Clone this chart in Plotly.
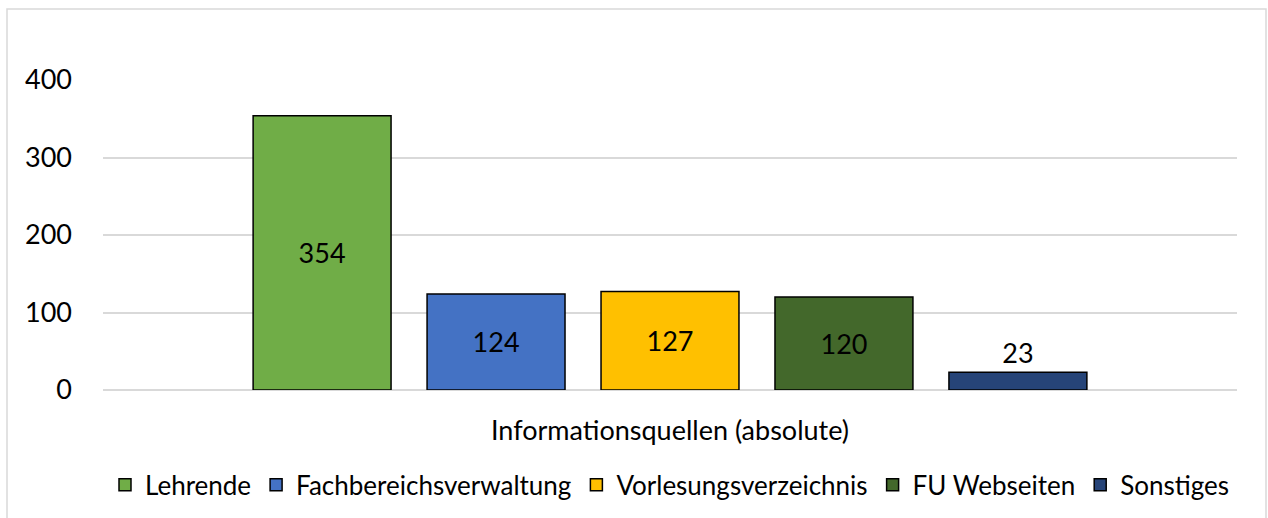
import plotly.graph_objects as go

category = ['Informationsquellen (absolute)']
series = ['Lehrende', 'Fachbereichsverwaltung', 'Vorlesungsverzeichnis', 'FU Webseiten', 'Sonstiges']
values = [354, 124, 127, 120, 23]
colors = ['#70AD47', '#4472C4', '#FFC000', '#43682B', '#264478']

W, H = 1268, 518
L, R, T, B = 103, 31, 80, 128
font = 'Lato, Calibri, sans-serif'
fs = 27

fig = go.Figure()
for name, v, c in zip(series, values, colors):
  fig.add_trace(go.Bar(
    x = category, y = [v], name = name,
    marker = dict(color = c, line = dict(color = '#000000', width = 1.5)),
    text = [v], textposition = 'auto', insidetextanchor = 'middle',
    textfont = dict(color = '#000000', size = fs, family = font),
    cliponaxis = False,
  ))

# chart frame (pixel -> paper)
pw, ph = W - L - R, H - T - B
fig.add_shape(type = 'rect', xref = 'paper', yref = 'paper',
  x0 = (7 - L) / pw, x1 = (1266 - L) / pw, y0 = (H - B - 530) / ph, y1 = (H - B - 9) / ph,
  line = dict(color = '#D9D9D9', width = 1.5), fillcolor = 'rgba(0,0,0,0)', layer = 'below')

fig.update_layout(
  width = W, height = H,
  margin = dict(l = L, r = R, t = T, b = B, autoexpand = False),
  paper_bgcolor = 'white', plot_bgcolor = 'white',
  font = dict(family = font, size = fs, color = '#000000'),
  barmode = 'group', bargap = 0.233, bargroupgap = 0.207,
  showlegend = True,
  legend = dict(orientation = 'h', x = 0.5, xanchor = 'center', y = -0.306, yanchor = 'middle',
                bgcolor = 'rgba(0,0,0,0)',
                font = dict(size = 26, family = font), itemwidth = 30, tracegroupgap = 0),
)
fig.update_yaxes(range = [0, 400], dtick = 100, showgrid = True, gridcolor = '#D9D9D9', gridwidth = 1.5,
                 zeroline = True, zerolinecolor = '#D9D9D9', zerolinewidth = 1.5,
                 showline = False, ticks = '', ticklabelstandoff = 30,
                 tickfont = dict(size = fs, family = font))
fig.update_xaxes(showline = False, ticks = '', ticklabelstandoff = 22, tickfont = dict(size = fs, family = font))

fig.write_html('out.html', config = {'displayModeBar': False},
               post_script = "document.body.style.margin = '0';")
